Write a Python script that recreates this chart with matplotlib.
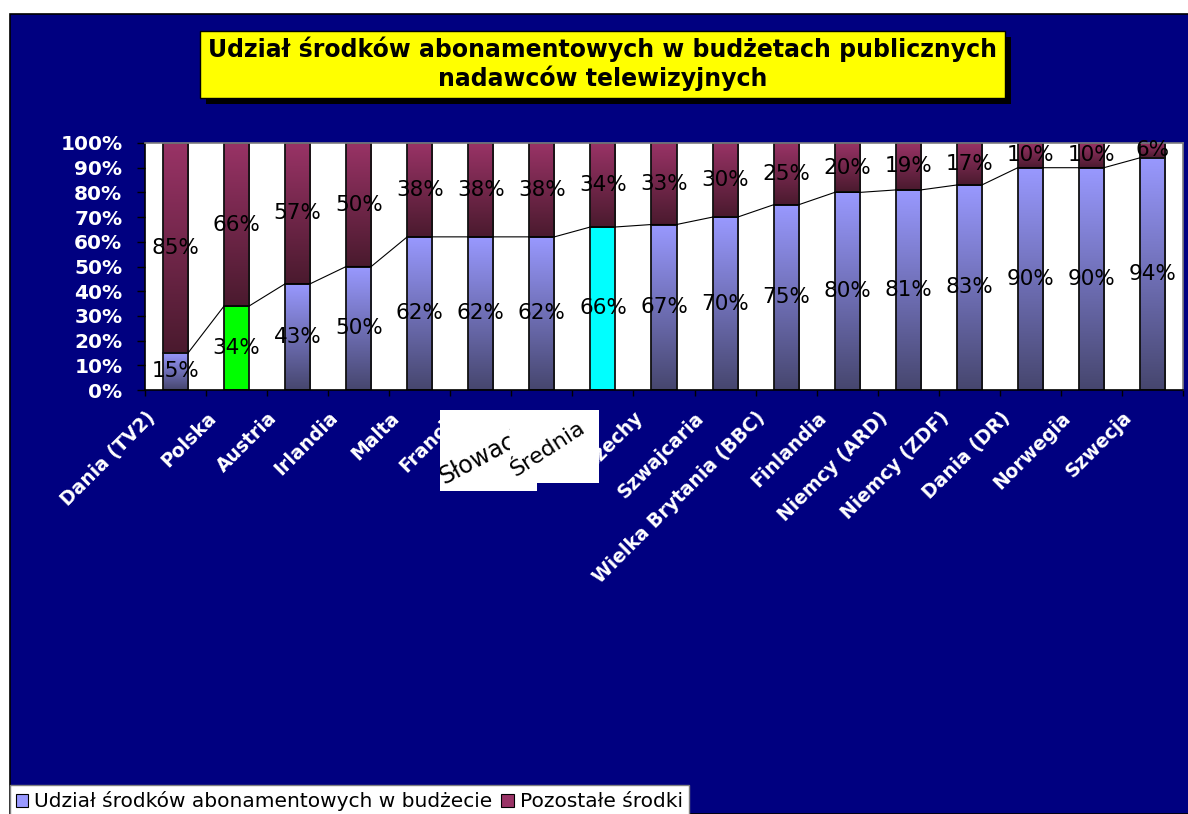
import matplotlib
matplotlib.use('Agg')
import matplotlib.pyplot as plt
import numpy as np
from matplotlib.patches import Rectangle, Patch
from matplotlib.colors import to_rgb
import matplotlib.transforms as mtransforms

# ---------------- data ----------------
categories = ['Dania (TV2)', 'Polska', 'Austria', 'Irlandia', 'Malta', 'Francja',
              'Słowacja', 'Średnia', 'Czechy', 'Szwajcaria', 'Wielka Brytania (BBC)',
              'Finlandia', 'Niemcy (ARD)', 'Niemcy (ZDF)', 'Dania (DR)', 'Norwegia', 'Szwecja']
abonament = [15, 34, 43, 50, 62, 62, 62, 66, 67, 70, 75, 80, 81, 83, 90, 90, 94]
pozostale = [85, 66, 57, 50, 38, 38, 38, 34, 33, 30, 25, 20, 19, 17, 10, 10, 6]
highlight = {'Polska': '#00FF00', 'Średnia': '#00FFFF'}
yticks = [0, 10, 20, 30, 40, 50, 60, 70, 80, 90, 100]
ytick_labels = [f'{t}%' for t in yticks]
title = 'Udział środków abonamentowych w budżetach publicznych\nnadawców telewizyjnych'
legend_labels = ['Udział środków abonamentowych w budżecie', 'Pozostałe środki']

# ---------------- style ----------------
W, H = 1188, 814
NAVY = '#000080'
LAV_TOP, LAV_BOT = '#9999FF', '#46466E'
MAR_TOP, MAR_BOT = '#993366', '#4A1A2E'
BAR_W = 0.41

def fx(px):
    return px / W

def fy(py):
    return 1 - py / H

fig = plt.figure(figsize=(W / 100, H / 100), dpi=100)
fig.patch.set_facecolor('white')

# navy chart area
fig.add_artist(Rectangle((fx(10), 0), 1.0, fy(14), transform=fig.transFigure,
                         facecolor=NAVY, edgecolor='black', linewidth=1.2, zorder=0))

# title box with shadow
tx0, tx1, ty0, ty1 = 200, 1005, 31, 98
fig.add_artist(Rectangle((fx(tx0 + 6), fy(ty1 + 6)), fx(tx1) - fx(tx0), fy(ty0) - fy(ty1),
                         transform=fig.transFigure, facecolor='black', edgecolor='none', zorder=1))
fig.add_artist(Rectangle((fx(tx0), fy(ty1)), fx(tx1) - fx(tx0), fy(ty0) - fy(ty1),
                         transform=fig.transFigure, facecolor='#FFFF00', edgecolor='black',
                         linewidth=1, zorder=2))
fig.text(fx((tx0 + tx1) / 2), fy((ty0 + ty1) / 2 - 1), title, ha='center', va='center',
         fontsize=17, fontweight='bold', color='black', linespacing=1.15, zorder=3,
         family='DejaVu Sans')

# axes
ax = fig.add_axes([fx(145), fy(390), fx(1183) - fx(145), fy(143) - fy(390)])
ax.set_facecolor('white')
ax.set_zorder(2)

def gradient(top, bottom, n=256):
    t = np.linspace(0, 1, n)[:, None]
    c = (1 - t) * np.array(to_rgb(top)) + t * np.array(to_rgb(bottom))
    return c.reshape(n, 1, 3)

lav = gradient(LAV_TOP, LAV_BOT)
mar = gradient(MAR_TOP, MAR_BOT)
x = np.arange(len(categories))

for i, cat in enumerate(categories):
    x0, x1 = i - BAR_W / 2, i + BAR_W / 2
    a = abonament[i]
    p = pozostale[i]
    if cat in highlight:
        ax.add_patch(Rectangle((x0, 0), BAR_W, a, facecolor=highlight[cat],
                               edgecolor='none', zorder=1))
    else:
        ax.imshow(lav, extent=(x0, x1, 0, a), aspect='auto', origin='upper',
                  interpolation='bilinear', zorder=1)
    ax.imshow(mar, extent=(x0, x1, a, a + p), aspect='auto', origin='upper',
              interpolation='bilinear', zorder=1)

ax.bar(x, abonament, width=BAR_W, fill=False, edgecolor='#111111', linewidth=1.3, zorder=2)
ax.bar(x, pozostale, bottom=abonament, width=BAR_W, fill=False, edgecolor='#111111',
       linewidth=1.3, zorder=2)

# series lines between bar tops
sx, sy = [], []
for i, v in enumerate(abonament):
    sx += [i - BAR_W / 2, i + BAR_W / 2]
    sy += [v, v]
ax.plot(sx[1:-1], sy[1:-1], color='black', linewidth=0.8, zorder=3)

# data labels
for i in range(len(categories)):
    a = abonament[i]
    p = pozostale[i]
    ax.text(i, a / 2, f'{a}%', ha='center', va='center', fontsize=15.5, color='black', zorder=5)
    ax.text(i, a + p / 2, f'{p}%', ha='center', va='center', fontsize=15.5, color='black', zorder=5)

ax.set_xlim(-0.5, len(categories) - 0.5)
ax.set_ylim(0, 100)
ax.set_yticks(yticks)
ax.set_yticklabels(ytick_labels, color='white', fontweight='bold', fontsize=14.5)
ax.set_xticks(np.arange(-0.5, len(categories), 1.0))
ax.set_xticklabels([])
ax.tick_params(axis='y', direction='out', length=5.8, width=1, color='black', pad=10.5)
ax.tick_params(axis='x', direction='out', length=4, width=1, color='black')
for s in ['left', 'bottom']:
    ax.spines[s].set_color('black')
    ax.spines[s].set_linewidth(1.2)
for s in ['top', 'right']:
    ax.spines[s].set_color('#808080')
    ax.spines[s].set_linewidth(1.2)

# category labels
offset = mtransforms.ScaledTranslation(-17 / 100, -18 / 100, fig.dpi_scale_trans)
trans = mtransforms.blended_transform_factory(ax.transData, ax.transAxes) + offset
for i, cat in enumerate(categories):
    ax.text(i, 0, cat, transform=trans, rotation=45, ha='right', va='top', color='white',
            fontweight='bold', fontsize=13.5, clip_on=False)

# white pasted boxes with "Słowacja" / "Średnia"
b1 = Rectangle((fx(440), fy(491)), fx(537) - fx(440), fy(410) - fy(491),
               transform=fig.transFigure, facecolor='white', edgecolor='none', zorder=10)
fig.add_artist(b1)
t1 = fig.text(fx(446), fy(489), 'Słowacja', rotation=28, ha='left', va='bottom',
              fontsize=17, color='black', zorder=11, rotation_mode='anchor')
t1.set_clip_path(b1)
b2 = Rectangle((fx(510), fy(483)), fx(599) - fx(510), fy(410) - fy(483),
               transform=fig.transFigure, facecolor='white', edgecolor='none', zorder=12)
fig.add_artist(b2)
t2 = fig.text(fx(518), fy(480), 'Średnia', rotation=33, ha='left', va='bottom',
              fontsize=16, color='black', zorder=13, rotation_mode='anchor')
t2.set_clip_path(b2)

# legend
handles = [Patch(facecolor=LAV_TOP, edgecolor='black', linewidth=0.8),
           Patch(facecolor=MAR_TOP, edgecolor='black', linewidth=0.8)]
leg = fig.legend(handles, legend_labels, loc='lower left', bbox_to_anchor=(fx(10), -0.004),
                 ncol=2, frameon=True, fancybox=False, framealpha=1, fontsize=14.5,
                 handlelength=0.6, handleheight=0.6, handletextpad=0.3, columnspacing=0.45,
                 borderpad=0.3, borderaxespad=0)
leg.get_frame().set_facecolor('white')
leg.get_frame().set_edgecolor('#808080')
leg.get_frame().set_linewidth(1)
leg.set_zorder(20)

fig.savefig('out.png', dpi=100, facecolor='white')
